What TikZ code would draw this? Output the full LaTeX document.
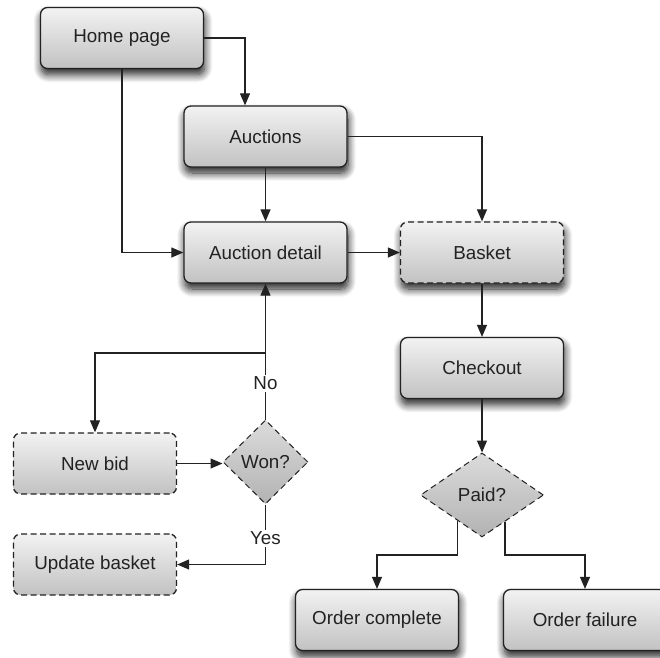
\documentclass[tikz,border=0pt]{standalone}
\usepackage{fontspec}
\setmainfont{Liberation Sans}
\usetikzlibrary{shapes.geometric,arrows.meta,shadows.blur,calc}
\definecolor{ink}{HTML}{222222}
\begin{document}
\begin{tikzpicture}[x=1pt,y=-1pt,
  font=\fontsize{18.8}{22}\selectfont, text=ink,
  base/.style={rectangle, rounded corners=7pt, minimum width=163pt, minimum height=61pt, line width=1.3pt, draw=ink, top color=black!5, bottom color=black!24, inner sep=0pt},
  shad/.style={blur shadow={shadow xshift=1pt, shadow yshift=-6pt, shadow blur radius=8pt, shadow blur steps=10, shadow opacity=90}},
  box/.style={base, shad},
  dbox/.style={base, dash pattern=on 6pt off 3.5pt},
  sbox/.style={dbox, shad},
  decision/.style={diamond, draw=ink, line width=1pt, dash pattern=on 6pt off 4pt, top color=black!14, bottom color=black!30, inner sep=0pt, minimum height=84pt},
  arr/.style={draw=ink, line width=1.2pt, -{Triangle[length=12pt,width=10pt]}},
  lbl/.style={fill=white, inner sep=2pt}
]
\useasboundingbox (0,0) rectangle (660,657);

\node[box] (home) at (122,38) {Home page};
\node[box] (auc) at (265.5,136.5) {Auctions};
\node[box] (det) at (265.5,252.5) {Auction detail};
\node[sbox] (bas) at (482,252.5) {Basket};
\node[box] (chk) at (482,368) {Checkout};
\node[decision, minimum width=123pt] (paid) at (482,495) {Paid?};
\node[box] (oc) at (377,620) {Order complete};
\node[box] (of) at (585,620) {Order failure};
\node[dbox] (nb) at (95,463.5) {New bid};
\node[decision, minimum width=85pt] (won) at (265.5,462) {Won?};
\node[dbox] (ub) at (95,564.5) {Update basket};

\draw[arr] (home.east) -| ([xshift=-20.5pt]auc.north);
\draw[arr] (home.south) |- (det.west);
\draw[arr] (auc.south) -- (det.north);
\draw[arr] (auc.east) -| (bas.north);
\draw[arr] (det.east) -- (bas.west);
\draw[arr] (bas.south) -- (chk.north);
\draw[arr] (chk.south) -- (paid.north);

\coordinate (pl) at ($(paid.south)!0.39!(paid.west)$);
\coordinate (pr) at ($(paid.south)!0.37!(paid.east)$);
\coordinate (pj) at (0,555);
\draw[arr] (pl) |- (pj -| oc.north) -- (oc.north);
\draw[arr] (pr) |- (pj -| of.north) -- (of.north);

\coordinate (by) at (0,353);
\coordinate (br) at (det.south |- by);
\draw[arr] (won.north) -- node[lbl, pos=0.265]{No} (det.south);
\draw[arr] (br) -| (nb.north);
\draw[arr] (nb.east) -- (nb.east -| won.west);
\draw[arr] (won.south) |- node[lbl, pos=0.28]{Yes} (ub.east);
\end{tikzpicture}
\end{document}
